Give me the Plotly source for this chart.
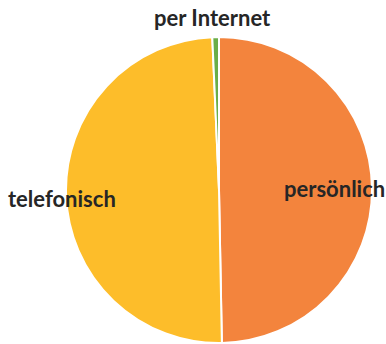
import plotly.graph_objects as go

labels = ["persönlich", "telefonisch", "per Internet"]
values = [49.7, 49.6, 0.7]
colors = ["#F3843D", "#FDBD2A", "#6AAE48"]
label_pos = {"persönlich": (334, 188), "telefonisch": (62, 198), "per Internet": (213, 18)}

W, H = 386, 344
fig = go.Figure(go.Pie(
    labels=labels, values=values, sort=False, direction="clockwise", rotation=0,
    marker=dict(colors=colors, line=dict(color="white", width=2)),
    textinfo="none", hoverinfo="label+percent",
    domain=dict(x=[66 / W, 372 / W], y=[1 - 343 / H, 1 - 37 / H]),
))
for lab in labels:
    px, py = label_pos[lab]
    fig.add_annotation(x=px / W, y=1 - py / H, xref="paper", yref="paper",
                       xanchor="center", yanchor="middle",
                       text="<b>" + lab + "</b>", showarrow=False,
                       font=dict(family="Lato", size=22, color="#262626"))
fig.update_layout(width=W, height=H, margin=dict(l=0, r=0, t=0, b=0),
                  showlegend=False, paper_bgcolor="white")
fig.write_html("out.html")
